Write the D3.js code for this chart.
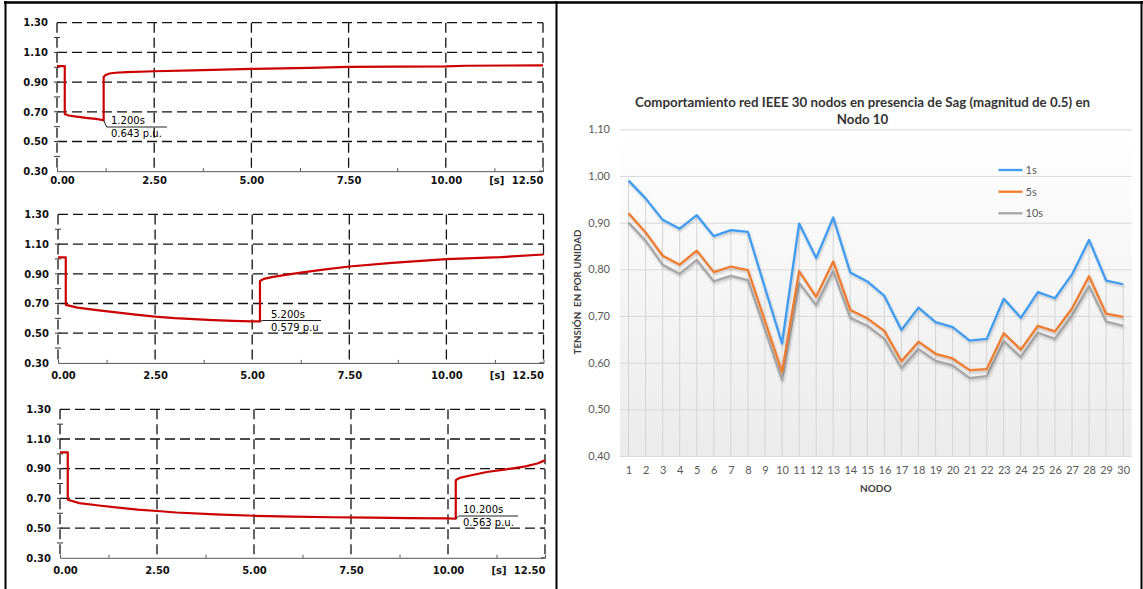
<!DOCTYPE html>
<html>
<head>
<meta charset="utf-8">
<script src="https://cdn.jsdelivr.net/npm/d3@7"></script>
<style>
  body { margin: 0; background: #fff; }
  svg { display: block; }
</style>
</head>
<body>
<svg id="fig" width="1143" height="589"></svg>
<script>
// ---------- Left: RMS voltage traces at node 10 (three sag durations) ----------
const timeTicks = [0, 2.5, 5, 7.5, 10, 12.5];
const voltTicks = [0.30, 0.50, 0.70, 0.90, 1.10, 1.30];

const sag1T = [0, 0.2, 0.2, 0.3, 0.5, 0.8, 1.0, 1.2, 1.2, 1.25, 1.35, 1.5, 1.8, 2.5, 3.5, 5.0, 6.5, 7.5, 10.0, 10.5, 12.5];
const sag1V = [1.008, 1.008, 0.685, 0.675, 0.667, 0.658, 0.652, 0.643, 0.934, 0.948, 0.958, 0.963, 0.967, 0.973, 0.979, 0.989, 0.996, 1.002, 1.006, 1.010, 1.013];

const sag2T = [0, 0.2, 0.2, 0.5, 1.0, 1.5, 2.0, 2.5, 3.0, 3.5, 4.0, 4.5, 5.0, 5.2, 5.2, 5.3, 5.5, 5.86, 6.3, 6.78, 7.5, 8.6, 10.0, 11.4, 12.5];
const sag2V = [1.010, 1.010, 0.691, 0.672, 0.655, 0.640, 0.625, 0.612, 0.602, 0.595, 0.588, 0.583, 0.580, 0.579, 0.851, 0.866, 0.878, 0.893, 0.910, 0.927, 0.949, 0.974, 0.999, 1.012, 1.030];

const sag3T = [0, 0.2, 0.2, 0.5, 1.0, 1.5, 2.0, 2.5, 3.0, 4.0, 5.0, 6.0, 7.0, 8.0, 9.0, 10.0, 10.2, 10.2, 10.3, 10.6, 11.0, 11.5, 12.0, 12.3, 12.5];
const sag3V = [1.010, 1.010, 0.691, 0.668, 0.652, 0.638, 0.625, 0.615, 0.605, 0.592, 0.583, 0.577, 0.573, 0.570, 0.567, 0.565, 0.563, 0.822, 0.838, 0.856, 0.878, 0.896, 0.916, 0.935, 0.956];

const markTimes = [1.2, 5.2, 10.2];
const markVolts = [0.643, 0.579, 0.563];
const markTimeText = ["1.200s", "5.200s", "10.200s"];
const markVoltText = ["0.643 p.u.", "0.579 p.u", "0.563 p.u."];

// ---------- Right: node voltages of the IEEE 30-bus network ----------
const nodos = [1,2,3,4,5,6,7,8,9,10,11,12,13,14,15,16,17,18,19,20,21,22,23,24,25,26,27,28,29,30];
const serie1s  = [0.990,0.952,0.906,0.887,0.916,0.871,0.884,0.880,0.760,0.641,0.898,0.824,0.911,0.793,0.774,0.743,0.670,0.718,0.687,0.676,0.647,0.651,0.737,0.696,0.751,0.738,0.789,0.863,0.776,0.768];
const serie5s  = [0.920,0.879,0.829,0.810,0.840,0.794,0.806,0.798,0.689,0.580,0.796,0.741,0.817,0.713,0.695,0.668,0.603,0.645,0.619,0.609,0.584,0.586,0.663,0.628,0.679,0.667,0.716,0.785,0.705,0.698];
const serie10s = [0.900,0.861,0.810,0.790,0.820,0.774,0.786,0.777,0.670,0.563,0.771,0.723,0.796,0.696,0.679,0.651,0.588,0.629,0.604,0.594,0.567,0.571,0.646,0.612,0.664,0.651,0.701,0.764,0.688,0.679];
const serieNames = ["1s", "5s", "10s"];
const serieColors = ["#3f9cf0", "#f07b2e", "#a6a6a6"];
const yTicksRight = [0.40, 0.50, 0.60, 0.70, 0.80, 0.90, 1.00, 1.10];

const svg = d3.select("#fig");

// ---------- trace panels ----------
const panels = [
  { top: 22.7, x0: 57, x1: 543, t: sag1T, v: sag1V, labC: 180, m: 0, tx: 111, ux1: 167, uy: 127 },
  { top: 214.4, x0: 58, x1: 543.5, t: sag2T, v: sag2V, labC: 375, m: 1, tx: 271, ux1: 321, uy: 320.5 },
  { top: 409.3, x0: 60, x1: 545, t: sag3T, v: sag3V, labC: 570, m: 2, tx: 463, ux1: 518, uy: 516 }
];

panels.forEach(p => {
  const g = svg.append("g");
  const x = d3.scaleLinear().domain([0, 12.5]).range([p.x0, p.x1]);
  const y = d3.scaleLinear().domain([0.3, 1.3]).range([p.top + 148.5, p.top]);
  const bottom = y(0.3);

  // dashed grid
  g.selectAll(".hg").data(voltTicks.filter(d => d > 0.3)).join("line")
    .attr("x1", p.x0).attr("x2", p.x1)
    .attr("y1", d => y(d)).attr("y2", d => y(d))
    .attr("stroke", "#111").attr("stroke-width", 1.3).attr("stroke-dasharray", "10,5");
  g.selectAll(".vg").data(timeTicks).join("line")
    .attr("x1", d => x(d)).attr("x2", d => x(d))
    .attr("y1", p.top).attr("y2", bottom)
    .attr("stroke", "#111").attr("stroke-width", 1.3).attr("stroke-dasharray", "10,5");

  // minor ticks on the value axis and at the right edge
  const minor = d3.range(0.4, 1.3, 0.1);
  g.selectAll(".mt").data(minor).join("line")
    .attr("x1", p.x0 - 3).attr("x2", p.x0 + 3)
    .attr("y1", d => y(d)).attr("y2", d => y(d))
    .attr("stroke", "#333").attr("stroke-width", 1);
  g.selectAll(".mtr").data(voltTicks).join("line")
    .attr("x1", p.x1 - 4).attr("x2", p.x1)
    .attr("y1", d => y(d)).attr("y2", d => y(d))
    .attr("stroke", "#333").attr("stroke-width", 1);

  // time axis baseline
  const xa = g.append("g").attr("transform", `translate(0,${bottom})`)
    .call(d3.axisBottom(x).tickValues([1.25, 3.75, 6.25, 8.75, 11.25]).tickSize(-3).tickFormat(""));
  xa.select(".domain").attr("stroke", "#555").attr("stroke-width", 1);
  xa.selectAll(".tick line").attr("stroke", "#555");

  // tick labels
  const yl = g.append("g").attr("transform", `translate(${p.x0 - 6},0)`)
    .call(d3.axisLeft(y).tickValues(voltTicks).tickSize(0).tickFormat(d3.format(".2f")));
  yl.select(".domain").remove();
  yl.selectAll("text").attr("font-family", "DejaVu Sans").attr("font-weight", "bold")
    .attr("font-size", 10).attr("fill", "#111");

  const xl = g.append("g").attr("transform", `translate(0,${p.labC - 3.6})`)
    .call(d3.axisBottom(x).tickValues(timeTicks).tickSize(0).tickPadding(0).tickFormat(d3.format(".2f")));
  xl.select(".domain").remove();
  xl.selectAll("text").attr("font-family", "DejaVu Sans").attr("font-weight", "bold")
    .attr("font-size", 10).attr("fill", "#111");
  xl.selectAll(".tick").filter(d => d === 0).select("text").attr("dx", 5);
  xl.selectAll(".tick").filter(d => d === 12.5).select("text").attr("text-anchor", "end");
  g.append("text").attr("x", p.x0 + (p.x1 - p.x0) * 0.905).attr("y", p.labC + 3.6)
    .attr("text-anchor", "middle").attr("font-family", "DejaVu Sans").attr("font-weight", "bold")
    .attr("font-size", 10).attr("fill", "#111").text("[s]");

  // voltage trace
  const pts = p.t.map((t, i) => [t, p.v[i]]);
  g.append("path").datum(pts)
    .attr("d", d3.line().x(d => x(d[0])).y(d => y(d[1])))
    .attr("fill", "none").attr("stroke", "#cc0000").attr("stroke-width", 2.2)
    .attr("stroke-linejoin", "round");

  // marker annotation at the end of the sag
  const mx = x(markTimes[p.m]), my = y(markVolts[p.m]);
  g.append("polyline")
    .attr("points", `${mx},${my} ${mx + 3},${p.uy} ${p.ux1},${p.uy}`)
    .attr("fill", "none").attr("stroke", "#222").attr("stroke-width", 1);
  g.append("text").attr("x", p.tx).attr("y", p.uy - 3)
    .attr("font-family", "DejaVu Sans").attr("font-size", 10).attr("fill", "#000")
    .text(markTimeText[p.m]);
  g.append("text").attr("x", p.tx).attr("y", p.uy + 10)
    .attr("font-family", "DejaVu Sans").attr("font-size", 10).attr("fill", "#000")
    .text(markVoltText[p.m]);
});

// ---------- node voltage chart ----------
const defs = svg.append("defs");
const grad = defs.append("linearGradient").attr("id", "plotBg")
  .attr("x1", 0).attr("y1", 0).attr("x2", 0).attr("y2", 1);
grad.append("stop").attr("offset", "0%").attr("stop-color", "#ffffff");
grad.append("stop").attr("offset", "100%").attr("stop-color", "#ebebeb");
const shadow = defs.append("filter").attr("id", "lineShadow")
  .attr("x", "-5%").attr("y", "-5%").attr("width", "110%").attr("height", "120%");
shadow.append("feDropShadow").attr("dx", 0.8).attr("dy", 1.6).attr("stdDeviation", 0.9)
  .attr("flood-color", "#000").attr("flood-opacity", 0.22);

const R = { left: 620, right: 1131.7, top: 129.3, bottom: 456 };
const xr = d3.scalePoint().domain(nodos).range([R.left, R.right]).padding(0.5);
const yr = d3.scaleLinear().domain([0.4, 1.1]).range([R.bottom, R.top]);
const rc = svg.append("g");

rc.append("rect").attr("x", R.left).attr("y", R.top)
  .attr("width", R.right - R.left).attr("height", R.bottom - R.top)
  .attr("fill", "url(#plotBg)");

const ga = rc.append("g").attr("transform", `translate(${R.left},0)`)
  .call(d3.axisLeft(yr).tickValues(yTicksRight).tickSize(-(R.right - R.left)).tickPadding(10)
    .tickFormat(d => d.toFixed(2).replace(".", ",")));
ga.select(".domain").remove();
ga.selectAll(".tick line").attr("stroke", "#d9d9d9").attr("stroke-width", 1);
ga.selectAll("text").attr("font-family", "Lato").attr("font-size", 11).attr("fill", "#595959");

// drop lines from the highest series down to the category axis
rc.selectAll(".drop").data(nodos).join("line")
  .attr("x1", d => xr(d)).attr("x2", d => xr(d))
  .attr("y1", (d, i) => yr(Math.max(serie1s[i], serie5s[i], serie10s[i])))
  .attr("y2", R.bottom)
  .attr("stroke", "#d4d4d4").attr("stroke-width", 1);

const xa = rc.append("g").attr("transform", `translate(0,${R.bottom})`)
  .call(d3.axisBottom(xr).tickSize(0).tickPadding(10));
xa.select(".domain").remove();
xa.selectAll("text").attr("font-family", "Lato").attr("font-size", 11).attr("fill", "#595959");

const series = [serie10s, serie5s, serie1s];
const colorsDraw = [serieColors[2], serieColors[1], serieColors[0]];
const lineGen = d3.line().x((d, i) => xr(nodos[i])).y(d => yr(d));
series.forEach((s, k) => {
  rc.append("path").datum(s).attr("d", lineGen)
    .attr("fill", "none").attr("stroke", colorsDraw[k]).attr("stroke-width", 2.3)
    .attr("stroke-linejoin", "round").attr("filter", "url(#lineShadow)");
});

// legend
const legY = [170, 191.7, 213.3];
serieNames.forEach((n, i) => {
  rc.append("line").attr("x1", 998.5).attr("x2", 1022.5)
    .attr("y1", legY[i]).attr("y2", legY[i])
    .attr("stroke", serieColors[i]).attr("stroke-width", 2.3);
  rc.append("text").attr("x", 1025.5).attr("y", legY[i]).attr("dy", "0.35em")
    .attr("font-family", "Lato").attr("font-size", 11).attr("fill", "#595959").text(n);
});

// titles
rc.append("text").attr("x", 862.5).attr("y", 106.5).attr("text-anchor", "middle")
  .attr("font-family", "Lato").attr("font-weight", "bold").attr("font-size", 13.3).attr("fill", "#333")
  .text("Comportamiento red IEEE 30 nodos en presencia de Sag (magnitud de 0.5) en");
rc.append("text").attr("x", 862.5).attr("y", 124).attr("text-anchor", "middle")
  .attr("font-family", "Lato").attr("font-weight", "bold").attr("font-size", 13.3).attr("fill", "#333")
  .text("Nodo 10");
rc.append("text").attr("x", 875.8).attr("y", 492).attr("text-anchor", "middle")
  .attr("font-family", "Lato").attr("font-weight", "bold").attr("font-size", 10).attr("fill", "#404040")
  .text("NODO");
rc.append("text").attr("transform", "translate(581,292) rotate(-90)").attr("text-anchor", "middle")
  .attr("font-family", "Lato").attr("font-weight", "bold").attr("font-size", 9.8).attr("fill", "#404040")
  .attr("xml:space", "preserve").text("TENSIÓN  EN POR UNIDAD");

// outer frame and divider
const frame = svg.append("g").attr("stroke", "#000").attr("fill", "none");
frame.append("line").attr("x1", 4).attr("x2", 1143).attr("y1", 2.5).attr("y2", 2.5).attr("stroke-width", 2.5);
frame.append("line").attr("x1", 5.5).attr("x2", 5.5).attr("y1", 1).attr("y2", 589).attr("stroke-width", 2);
frame.append("line").attr("x1", 556.5).attr("x2", 556.5).attr("y1", 1).attr("y2", 589).attr("stroke-width", 2);
frame.append("line").attr("x1", 1141.5).attr("x2", 1141.5).attr("y1", 1).attr("y2", 589).attr("stroke-width", 2);
</script>
</body>
</html>
